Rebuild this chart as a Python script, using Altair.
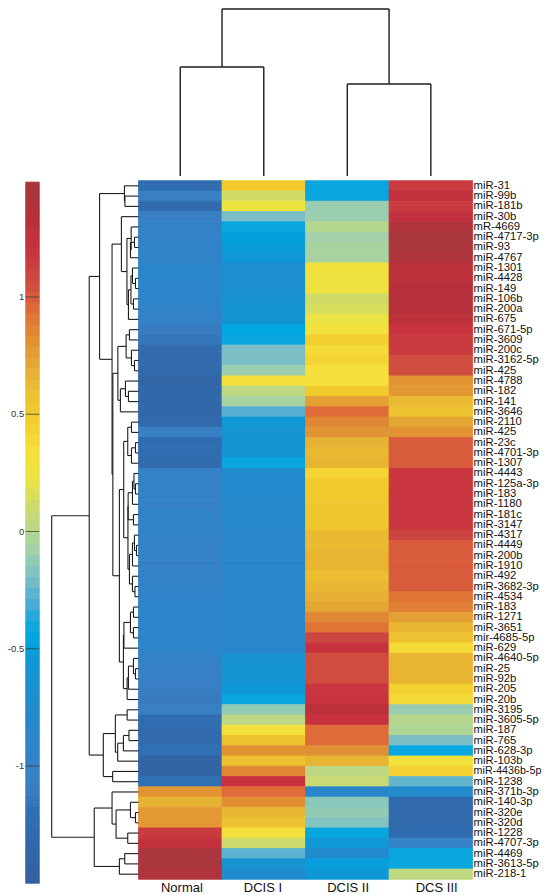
import altair as alt
import numpy as np
import pandas as pd

FONT = "Liberation Sans"
LINE = "#1c1c1c"

miRNAs = ["miR-31","miR-99b","miR-181b","miR-30b","mR-4669","miR-4717-3p","miR-93","miR-4767","miR-1301",
"miR-4428","miR-149","miR-106b","miR-200a","miR-675","miR-671-5p","miR-3609","miR-200c","miR-3162-5p","miR-425",
"miR-4788","miR-182","miR-141","miR-3646","miR-2110","miR-425","miR-23c","miR-4701-3p","miR-1307","miR-4443",
"miR-125a-3p","miR-183","miR-1180","miR-181c","miR-3147","miR-4317","miR-4449","miR-200b","miR-1910","miR-492",
"miR-3682-3p","miR-4534","miR-183","miR-1271","miR-3651","mir-4685-5p","miR-629","miR-4640-5p","miR-25","miR-92b",
"miR-205","miR-20b","miR-3195","miR-3605-5p","miR-187","miR-765","miR-628-3p","miR-103b","miR-4436b-5p","miR-1238",
"miR-371b-3p","miR-140-3p","miR-320e","miR-320d","miR-1228","miR-4707-3p","miR-4469","miR-3613-5p","miR-218-1"]

groups = ["Normal", "DCIS I", "DCIS II", "DCS III"]
group_label_pos = [0.52, 1.49, 2.51, 3.57]

normal = [-1.25,-1.05,-1.3,-1.08,-1.0,-.98,-.95,-.95,-.87,-.87,-.88,-.9,-.95,-.97,-1.12,-1.15,-1.28,-1.3,-1.3,
-1.38,-1.35,-1.33,-1.35,-1.3,-1.08,-1.25,-1.25,-1.3,-1.0,-1.0,-1.0,-1.0,-.95,-.95,-.95,-.97,-1.0,-1.0,-.97,-.95,-.93,
-.9,-.9,-.9,-.9,-.9,-1.0,-1.03,-1.03,-1.1,-1.12,-1.08,-1.25,-1.3,-1.3,-1.2,-1.4,-1.4,-1.2,
.8,.66,.78,.78,1.15,1.25,1.43,1.45,1.4]
dcis1 = [.5,.13,.25,-.2,-.42,-.48,-.52,-.55,-.7,-.7,-.68,-.62,-.6,-.6,-.45,-.42,-.2,-.2,-.1,
.32,.02,-.05,-.28,-.55,-.6,-.6,-.6,-.42,-.75,-.75,-.78,-.8,-.8,-.82,-.85,-.85,-.85,-.85,-.85,-.85,-.85,
-.85,-.85,-.85,-.85,-.85,-.62,-.6,-.6,-.55,-.42,-.12,.02,.32,.58,.8,.58,.85,1.2,
.95,.82,.64,.58,.32,.1,-.27,-.62,-.75]
dcis2 = [-.42,-.42,-.1,-.1,0,-.08,-.05,-.05,.3,.27,.27,.12,.15,.22,.3,.46,.38,.42,.35,
.35,.5,.75,.95,.85,.8,.66,.63,.65,.42,.5,.5,.53,.53,.53,.62,.62,.65,.65,.6,.64,.68,
.72,.85,.92,1.08,1.2,1.05,1.05,1.05,1.18,1.2,1.3,1.2,.95,.95,.82,.65,.02,.08,
-.85,-.15,-.12,-.17,-.42,-.55,-.75,-.5,-.55]
dcs3 = [1.15,1.25,1.15,1.25,1.38,1.45,1.45,1.4,1.3,1.3,1.35,1.35,1.35,1.3,1.22,1.15,1.15,1.05,1.05,
.8,.78,.62,.58,.72,.8,1.0,1.0,1.0,1.18,1.18,1.18,1.18,1.18,1.18,1.1,1.0,1.0,1.0,1.0,1.0,.92,
.88,.75,.65,.58,.38,.65,.65,.65,.45,.4,-.1,0,-.02,-.2,-.42,.3,.45,-.25,
-.75,-1.3,-1.3,-1.3,-1.25,-1.0,-.42,-.42,.03]

color_stops = [-1.5,-1.2,-1.1,-1.0,-.8,-.55,-.45,-.37,-.28,-.19,-.08,.02,.12,.23,.35,.49,.58,.69,.84,.95,1.06,1.2,1.33,1.49]
color_range = ["#33609f","#2f6fb4","#3a7ec2","#3581c6","#2488cb","#0f97d6","#00a6df","#15a7de","#57b0d2","#80bfc4",
"#a5d0ab","#bdd785","#d0db68","#eee440","#f5df3b","#f2cb2c","#edc230","#e5ae35","#e08a35","#df6b38","#cd4a3f","#c8323f","#b82f3a","#a5393f"]
colorbar_ticks = [1, 0.5, 0, -0.5, -1]
colorbar_labels = ["1", "0.5", "0", "-0.5", "-1"]
colorbar_levels = 64

# Row dendrogram: [merge height, child, child]; integers are rows.
rows_0_2 = [14, 0, [13.5, 1, 2]]
rows_4_7 = [7.3, 4, [8, [4, 5, 6], 7]]
rows_8_13 = [10, [7.5, [6, 8, [3, 9, 10]], [5, 11, 12]], 13]
rows_3_13 = [17, 3, [11.5, rows_4_7, rows_8_13]]
rows_14_22 = [20.5, [12.3, [9, 14, 15], [7, 16, [4, 17, 18]]], [18, [13, 19, [10, 20, 21]], 22]]
rows_23_27 = [10.7, [7, 23, 24], [7, [3, 25, 26], 27]]
rows_28_33 = [10.3, [6, [4.5, 28, [3, 29, 30]], 31], [5, 32, 33]]
rows_34_40 = [9, [6, [4, 34, [2, 35, 36]], 37], [6, 38, [3.5, 39, 40]]]
rows_23_40 = [14.7, rows_23_27, [10.5, rows_28_33, rows_34_40]]
rows_41_45 = [14.5, [8, [5, 41, 42], [5, 43, 44]], 45]
rows_46_50 = [11.3, [10, [5, 46, [3, 47, 48]], 49], 50]
rows_23_50 = [19, rows_23_40, [15, rows_41_45, rows_46_50]]
rows_0_50 = [38.7, rows_0_2, [26.3, rows_3_13, [25.5, rows_14_22, rows_23_50]]]
rows_51_58 = [35, [23, [11.3, 51, 52], [20.7, [15, [9.5, 53, 54], 55], 56]], [25.7, 57, 58]]
rows_59_67 = [44, [26.3, 59, [22.3, [8, 60, [3, 61, 62]], [10.7, 63, 64]]], [19, [13.7, 65, 66], 67]]
row_tree = [86.3, [49, rows_0_50, rows_51_58], rows_59_67]

# Column dendrogram, heights above the heatmap, leaves are column indexes.
col_tree = [167, [109, 0, 1], [92, 2, 3]]


def segments(tree, out):
    """Return (position, height) of a node and collect its dendrogram legs."""
    if not isinstance(tree, list):
        return tree + 0.5, 0
    h, a, b = tree
    pa, ha = segments(a, out)
    pb, hb = segments(b, out)
    out.append(dict(p=pa, p2=pa, h=ha, h2=h))
    out.append(dict(p=pb, p2=pb, h=hb, h2=h))
    out.append(dict(p=pa, p2=pb, h=h, h2=h))
    return (pa + pb) / 2, h


row_segs = []
segments(row_tree, row_segs)
col_segs = []
segments(col_tree, col_segs)

cells = pd.DataFrame([
    dict(col=c, col2=c + 1, row=r, row2=r + 1, v=vals[r])
    for c, vals in enumerate([normal, dcis1, dcis2, dcs3]) for r in range(len(miRNAs))
])

cscale = alt.Scale(domain=color_stops, range=color_range, clamp=True)
heat_x = alt.Scale(domain=[0, 4], range=[130.5, 464.6], nice=False, zero=False)
heat_y = alt.Scale(domain=[0, 68], range=[172.7, 871.3], nice=False, zero=False)
bar_x = alt.Scale(domain=[0, 1], range=[17.7, 31.3], nice=False, zero=False)
bar_y = alt.Scale(domain=[-1.5, 1.49], range=[875.25, 174.1], nice=False, zero=False)
dend_h = alt.Scale(domain=[0, 86.3], range=[130.5, 43.7], nice=False, zero=False)
top_h = alt.Scale(domain=[0, 168], range=[168, 0], nice=False, zero=False)


def X(f, s):
    return alt.X(f, type="quantitative", scale=s, axis=None, title=None)


def Y(f, s):
    return alt.Y(f, type="quantitative", scale=s, axis=None, title=None)


heat = alt.Chart(cells).mark_rect(strokeWidth=0.8).encode(
    x=X("col", heat_x), x2="col2", y=Y("row", heat_y), y2="row2",
    color=alt.Color("v:Q", scale=cscale, legend=None),
    stroke=alt.Stroke("v:Q", scale=cscale, legend=None),
)

label_sizes = [10.7 if len(s) > 11 else 11.3 for s in miRNAs]
row_text = alt.Chart(pd.DataFrame(dict(x=[4] * len(miRNAs), y=np.arange(len(miRNAs)) + 0.5, t=miRNAs, fs=label_sizes))).mark_text(
    align="left", baseline="middle", dx=1, font=FONT, color="#111111"
).encode(x=X("x", heat_x), y=Y("y", heat_y), text="t:N", size=alt.Size("fs:Q", scale=None, legend=None))

col_text = alt.Chart(pd.DataFrame(dict(x=group_label_pos, y=[68] * 4, t=groups))).mark_text(
    align="center", baseline="middle", dy=8.8, font=FONT, fontSize=13, color="#111111"
).encode(x=X("x", heat_x), y=Y("y", heat_y), text="t:N")

row_dend = alt.Chart(pd.DataFrame(row_segs)).mark_rule(color=LINE, strokeWidth=1.1).encode(
    x=X("h", dend_h), x2="h2", y=Y("p", heat_y), y2="p2"
)

top_dend = alt.Chart(pd.DataFrame(col_segs)).mark_rule(color=LINE, strokeWidth=1.4).encode(
    x=X("p", heat_x), x2="p2", y=Y("h", top_h), y2="h2"
)

edges = np.linspace(-1.5, 1.49, colorbar_levels + 1)
bar_df = pd.DataFrame(dict(a=edges[:-1], b=edges[1:], m=(edges[:-1] + edges[1:]) / 2, x=[0] * colorbar_levels, x2=[1] * colorbar_levels))
bar = alt.Chart(bar_df).mark_rect(strokeWidth=0.8).encode(
    x=X("x", bar_x), x2="x2", y=Y("a", bar_y), y2="b",
    color=alt.Color("m:Q", scale=cscale, legend=None),
    stroke=alt.Stroke("m:Q", scale=cscale, legend=None),
)
tick_df = pd.DataFrame(dict(v=colorbar_ticks, t=colorbar_labels, a=[0] * 5, b=[1] * 5))
bar_ticks = alt.Chart(tick_df).mark_rule(color="#3a3a3a", strokeWidth=1, opacity=0.75).encode(
    x=X("a", bar_x), x2="b", y=Y("v", bar_y)
)
bar_text = alt.Chart(tick_df).mark_text(
    align="right", baseline="middle", dx=-1.5, font=FONT, fontSize=9.5, color="#333333"
).encode(x=X("a", bar_x), y=Y("v", bar_y), text="t:N")

chart = alt.layer(heat, row_text, col_text, row_dend, top_dend, bar, bar_ticks, bar_text).resolve_scale(
    x="independent", y="independent"
).properties(
    width=534, height=886, padding=0, autosize=alt.AutoSizeParams(type="none")
).configure_view(stroke=None)

chart.save("out.html", embed_options={"renderer": "svg", "actions": False})
